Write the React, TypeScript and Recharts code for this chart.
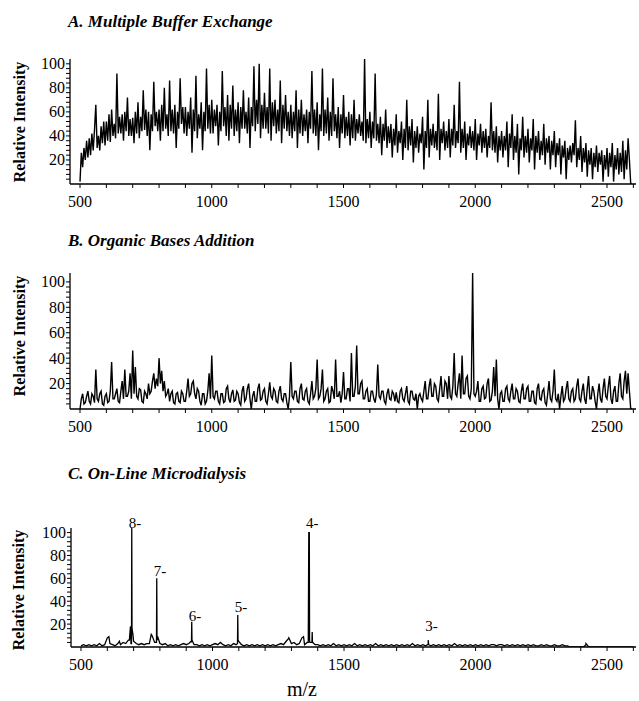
import { LineChart, Line, XAxis, YAxis, ReferenceDot } from "recharts";

const FONT = '"Liberation Serif", "Times New Roman", serif';

// m/z sampling for panels A and B (every 5 units from 500)
const MZ_START = 500;
const MZ_STEP = 5;

// A. Multiple Buffer Exchange, 500..2595 (one row per 100 m/z)
const A_VALS = [
  2, 26, 14, 30, 20, 36, 22, 38, 24, 42, 28, 45, 66, 30, 40, 28, 48, 34, 52, 32,
  52, 36, 58, 35, 62, 40, 50, 38, 92, 42, 56, 42, 58, 36, 60, 44, 72, 40, 54, 40,
  55, 34, 60, 42, 68, 38, 56, 44, 78, 45, 62, 40, 60, 28, 58, 44, 85, 48, 60, 44,
  62, 36, 66, 44, 80, 46, 58, 40, 86, 44, 62, 42, 66, 30, 60, 46, 88, 50, 64, 42,
  64, 40, 60, 46, 72, 26, 62, 44, 90, 38, 58, 46, 68, 28, 60, 44, 96, 46, 66, 42,
  70, 42, 62, 48, 66, 32, 60, 44, 94, 48, 64, 40, 74, 36, 66, 46, 82, 40, 62, 44,
  68, 34, 64, 46, 78, 46, 60, 42, 72, 30, 64, 48, 98, 44, 70, 50, 100, 38, 66, 46,
  76, 46, 64, 42, 96, 36, 68, 48, 70, 42, 62, 44, 86, 34, 66, 46, 74, 44, 60, 40,
  66, 38, 60, 44, 78, 30, 62, 42, 70, 40, 58, 44, 62, 34, 60, 46, 94, 42, 62, 40,
  68, 28, 58, 44, 96, 40, 62, 42, 72, 36, 60, 40, 88, 44, 58, 38, 64, 30, 58, 42,
  74, 38, 56, 40, 60, 32, 58, 38, 70, 36, 54, 42, 58, 40, 52, 36, 104, 34, 54, 38,
  60, 30, 52, 38, 92, 36, 50, 34, 56, 24, 50, 36, 62, 30, 48, 34, 50, 22, 46, 32,
  58, 26, 44, 34, 52, 20, 46, 30, 70, 28, 48, 32, 54, 18, 44, 30, 48, 26, 42, 34,
  56, 12, 44, 30, 70, 22, 46, 32, 50, 30, 44, 28, 75, 20, 46, 34, 52, 28, 44, 30,
  54, 22, 46, 32, 66, 30, 44, 34, 85, 26, 46, 30, 52, 20, 42, 32, 48, 30, 44, 28,
  54, 20, 42, 32, 50, 26, 44, 30, 46, 22, 40, 30, 68, 28, 44, 26, 48, 18, 40, 28,
  44, 22, 40, 28, 52, 14, 42, 30, 58, 20, 40, 26, 50, 8, 38, 28, 56, 22, 40, 26,
  46, 18, 38, 28, 54, 12, 40, 26, 44, 20, 36, 24, 50, 16, 38, 26, 40, 12, 36, 24,
  44, 14, 34, 24, 38, 8, 32, 22, 36, 4, 30, 20, 32, 18, 34, 24, 53, 14, 30, 20,
  40, 10, 30, 18, 34, 6, 28, 16, 30, 4, 26, 14, 32, 10, 26, 16, 28, 2, 24, 12,
  30, 6, 26, 14, 34, 2, 24, 12, 30, 8, 26, 10, 36, 4, 28, 12, 38, 20, 0, 0,
];

// B. Organic Bases Addition, 500..2595
const B_VALS = [
  0, 8, 12, 4, 5, 10, 14, 6, 4, 12, 10, 5, 31, 8, 6, 12, 14, 4, 3, 10,
  12, 5, 6, 14, 37, 8, 8, 12, 16, 6, 5, 14, 22, 8, 31, 10, 10, 14, 28, 8,
  46, 12, 33, 10, 8, 16, 15, 6, 5, 14, 12, 8, 20, 12, 14, 22, 28, 16, 24, 18,
  40, 20, 30, 14, 22, 10, 12, 16, 6, 12, 14, 5, 4, 12, 13, 6, 5, 14, 12, 6,
  6, 14, 24, 10, 12, 20, 22, 12, 8, 16, 14, 6, 3, 12, 12, 4, 6, 14, 28, 8,
  42, 10, 8, 14, 14, 6, 4, 12, 12, 5, 6, 16, 18, 8, 5, 12, 15, 6, 7, 14,
  12, 5, 3, 14, 18, 6, 8, 16, 20, 8, 0, 10, 14, 6, 6, 16, 20, 7, 8, 14,
  16, 6, 4, 12, 21, 10, 8, 16, 14, 6, 5, 14, 18, 8, 6, 12, 12, 5, 0, 10,
  37, 10, 8, 14, 14, 6, 5, 16, 20, 8, 7, 14, 16, 6, 4, 12, 22, 8, 10, 16,
  39, 8, 10, 16, 31, 6, 8, 14, 16, 5, 6, 18, 14, 8, 39, 10, 10, 14, 5, 12,
  29, 8, 8, 16, 16, 6, 44, 10, 10, 18, 50, 12, 12, 20, 22, 8, 8, 14, 16, 6,
  6, 14, 14, 8, 5, 12, 35, 10, 8, 14, 14, 6, 4, 12, 16, 8, 7, 14, 12, 6,
  13, 6, 5, 14, 16, 8, 6, 12, 18, 6, 4, 14, 14, 8, 7, 12, 0, 10, 12, 8,
  6, 14, 22, 8, 8, 18, 24, 10, 10, 20, 18, 8, 6, 16, 26, 10, 10, 22, 20, 8,
  26, 10, 8, 18, 44, 12, 10, 20, 28, 8, 42, 12, 12, 24, 26, 10, 8, 16, 107, 12,
  10, 14, 22, 6, 6, 16, 18, 8, 9, 20, 24, 6, 7, 14, 33, 10, 39, 8, 0, 12,
  14, 6, 6, 16, 18, 8, 6, 14, 20, 8, 8, 16, 14, 6, 5, 14, 20, 8, 8, 16,
  18, 6, 6, 14, 14, 5, 4, 16, 20, 8, 7, 14, 16, 5, 3, 12, 22, 8, 6, 14,
  31, 8, 6, 12, 0, 10, 18, 6, 8, 16, 22, 8, 6, 14, 16, 6, 8, 18, 24, 8,
  6, 14, 20, 8, 4, 16, 26, 8, 8, 18, 14, 6, 0, 12, 20, 8, 5, 16, 24, 10,
  8, 18, 26, 8, 4, 14, 18, 6, 6, 20, 28, 10, 8, 22, 30, 12, 28, 14, 0, 0,
];

// C. On-Line Microdialysis baseline, 500..2600 every 10
const C_STEP = 10;
const C_BASE = [
  1, 2, 1, 2, 1, 2, 1, 3, 1, 2,
  8, 3, 2, 1, 3, 2, 4, 3, 6, 3,
  5, 3, 2, 3, 2, 3, 3, 10, 4, 6,
  3, 2, 3, 1, 2, 1, 2, 1, 2, 3,
  2, 3, 4, 2, 2, 1, 2, 1, 2, 1,
  2, 3, 2, 4, 2, 1, 2, 1, 3, 2,
  5, 2, 1, 2, 1, 2, 1, 2, 1, 2,
  1, 2, 1, 2, 1, 2, 3, 2, 5, 8,
  3, 4, 2, 3, 8, 2, 4, 4, 4, 2,
  2, 1, 2, 1, 2, 1, 3, 1, 2, 1,
  2, 1, 2, 1, 3, 1, 2, 1, 2, 1,
  2, 1, 3, 1, 2, 1, 2, 1, 2, 1,
  2, 1, 2, 1, 2, 1, 3, 1, 2, 1,
  2, 1, 2, 1, 2, 1, 2, 1, 2, 1,
  2, 1, 3, 1, 2, 1, 2, 1, 2, 1,
  2, 1, 2, 1, 2, 1, 2, 2, 1, 2,
  2, 1, 2, 1, 2, 1, 2, 1, 2, 1,
  2, 1, 2, 1, 1, 2, 1, 2, 1, 1,
  2, 1, 1, 2, 1, 1, 0, 0, 0, 0,
  0, 0, 2, 0, 0, 0, 0, 0, 0, 0,
  0, 0, 0, 0, 0, 0, 0, 0, 0, 0,
  0,
];

// narrow peaks of panel C (m/z, intensity)
const C_PEAK_MZ = [606, 646, 684, 688, 692, 693, 694, 697, 767, 787, 788, 789, 793, 919, 921, 922, 1095, 1096, 1097, 1288, 1346, 1364, 1366, 1368, 1369, 1378, 1379, 1381, 1818, 1820, 1822, 2420];
const C_PEAK_INT = [9, 5, 6, 18, 3, 104, 16, 12, 11, 4, 60, 10, 8, 5, 22, 6, 3, 28, 6, 7, 9, 4, 100, 100, 5, 4, 13, 4, 2, 6, 2, 3];

const PEAK_LABELS = ["8-", "7-", "6-", "5-", "4-", "3-"];
const PEAK_LABEL_MZ = [693, 788, 921, 1096, 1367, 1820];
const PEAK_LABEL_Y = [104, 62, 23, 31, 104, 14];

const X_TICKS = [500, 600, 700, 800, 900, 1000, 1100, 1200, 1300, 1400, 1500, 1600, 1700, 1800, 1900, 2000, 2100, 2200, 2300, 2400, 2500, 2600];
const Y_TICKS = [4, 8, 12, 16, 20, 24, 28, 32, 36, 40, 44, 48, 52, 56, 60, 64, 68, 72, 76, 80, 84, 88, 92, 96, 100];

const X_DOMAIN = [462, 2610];

const gridData = (vals: number[], step: number) => vals.map((v, i) => ({ mz: MZ_START + i * step, v }));

const dataA = gridData(A_VALS, MZ_STEP);
const dataB = gridData(B_VALS, MZ_STEP);
const dataC = [
  ...gridData(C_BASE, C_STEP),
  ...C_PEAK_MZ.map((mz, i) => ({ mz, v: C_PEAK_INT[i] })),
].sort((a, b) => a.mz - b.mz);

function XTick(props: any) {
  const { x, y, payload } = props;
  const v = payload.value;
  return (
    <g>
      <line x1={x} x2={x} y1={y} y2={y + 4} stroke="#000" />
      {v % 500 === 0 && (
        <text x={x} y={y + 17} textAnchor="middle" dominantBaseline="central" fontFamily={FONT} fontSize={16} fill="#000">
          {v}
        </text>
      )}
    </g>
  );
}

function YTick(props: any) {
  const { x, y, payload } = props;
  const v = payload.value;
  return (
    <g>
      <line x1={x - 4} x2={x} y1={y} y2={y} stroke="#000" />
      {v % 20 === 0 && (
        <text x={x - 5} y={y} textAnchor="end" dominantBaseline="central" fontFamily={FONT} fontSize={16} fill="#000">
          {v}
        </text>
      )}
    </g>
  );
}

function Panel({ data, top, height, marginTop, yMax, axisW, labels, lineW }: any) {
  return (
    <div style={{ position: "absolute", left: 0, top }}>
      <LineChart width={639} height={height} data={data} margin={{ top: marginTop, right: 3, bottom: 0, left: 0 }}>
        <XAxis
          dataKey="mz"
          type="number"
          domain={X_DOMAIN}
          ticks={X_TICKS}
          interval={0}
          allowDataOverflow
          tickSize={0}
          tickMargin={0}
          tickLine={false}
          axisLine={{ stroke: "#000", strokeWidth: 1.3 }}
          tick={(p: any) => <XTick {...p} />}
          height={31}
        />
        <YAxis
          type="number"
          domain={[0, yMax]}
          ticks={Y_TICKS}
          interval={0}
          allowDataOverflow
          tickSize={0}
          tickMargin={0}
          tickLine={false}
          axisLine={{ stroke: "#000", strokeWidth: 1.3 }}
          tick={(p: any) => <YTick {...p} />}
          width={axisW}
        />
        <Line type="linear" dataKey="v" stroke="#000" strokeWidth={lineW} dot={false} isAnimationActive={false} />
        {labels &&
          PEAK_LABELS.map((t, i) => (
            <ReferenceDot
              key={t}
              x={PEAK_LABEL_MZ[i]}
              y={PEAK_LABEL_Y[i]}
              r={0}
              ifOverflow="visible"
              shape={(p: any) => (
                <text x={p.cx - 3} y={p.cy} fontFamily={FONT} fontSize={15} fill="#000">
                  {t}
                </text>
              )}
            />
          ))}
      </LineChart>
    </div>
  );
}

const titleStyle: any = {
  position: "absolute",
  left: 68,
  fontFamily: FONT,
  fontWeight: "bold",
  fontStyle: "italic",
  fontSize: 17,
  whiteSpace: "nowrap",
  lineHeight: "17px",
};

function YLabel({ cy, cx }: { cy: number; cx: number }) {
  return (
    <div
      style={{
        position: "absolute",
        left: cx,
        top: cy,
        transform: "translate(-50%, -50%) rotate(-90deg)",
        fontFamily: FONT,
        fontWeight: "bold",
        fontSize: 16,
        whiteSpace: "nowrap",
        lineHeight: "16px",
      }}
    >
      Relative Intensity
    </div>
  );
}

export default function App() {
  return (
    <div style={{ position: "absolute", left: 0, top: 0, width: 639, height: 701, background: "#fff" }}>
      <div style={{ ...titleStyle, top: 13 }}>A. Multiple Buffer Exchange</div>
      <div style={{ ...titleStyle, top: 232 }}>B. Organic Bases Addition</div>
      <div style={{ ...titleStyle, top: 465 }}>C. On-Line Microdialysis</div>
      <YLabel cx={20} cy={122} />
      <YLabel cx={20} cy={336} />
      <YLabel cx={19} cy={590} />
      <Panel data={dataA} top={0} height={215} marginTop={59} yMax={104} axisW={70} lineW={1.4} />
      <Panel data={dataB} top={250} height={190} marginTop={23} yMax={107} axisW={70} lineW={1.4} />
      <Panel data={dataC} top={500} height={178} marginTop={28} yMax={104} axisW={71} lineW={1.3} labels />
      <div style={{ position: "absolute", left: 302, top: 689, transform: "translate(-50%, -50%)", fontFamily: FONT, fontSize: 20, lineHeight: "18px" }}>
        m/z
      </div>
    </div>
  );
}
